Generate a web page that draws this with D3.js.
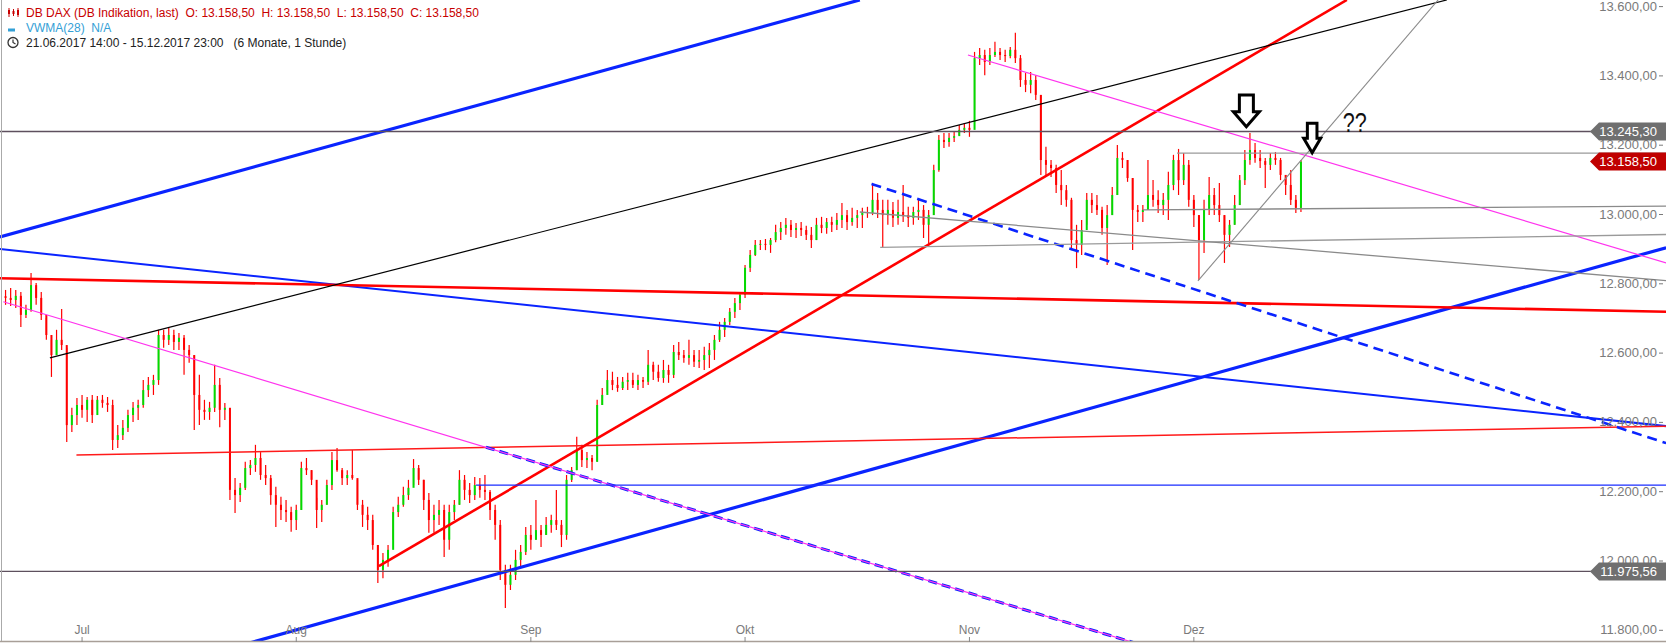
<!DOCTYPE html>
<html><head><meta charset="utf-8">
<script src="https://cdn.jsdelivr.net/npm/d3@7"></script>
<style>
html,body{margin:0;padding:0;background:#fff;overflow:hidden}
svg{display:block;font-family:"Liberation Sans",Arial,sans-serif}
</style></head><body>
<svg id="c" width="1666" height="643"></svg>
<script>
// ---- DATA (half-day candles, 21.06.2017 PM .. 15.12.2017 PM) ----
const firstOpen = 12770;
const highs = [
12788,12794,12788,12782,12745,12837,12808,12782,12707,12644,
12673,12733,12621,12448,12476,12485,12479,12485,12482,12485,
12479,12471,12398,12413,12442,12465,12471,12528,12537,12543,
12673,12673,12678,12673,12664,12658,12629,12600,12543,12471,
12465,12572,12534,12462,12349,12245,12231,12292,12297,12341,
12320,12283,12254,12220,12191,12182,12162,12168,12292,12303,
12268,12188,12182,12240,12320,12332,12274,12268,12326,12240,
12182,12162,12139,12052,12029,12052,12162,12191,12220,12240,
12300,12283,12240,12202,12168,12182,12168,12168,12182,12268,
12254,12231,12248,12245,12254,12211,12168,12124,11995,11995,
12038,12052,12104,12110,12182,12110,12133,12139,12211,12124,
12254,12277,12364,12341,12320,12312,12471,12505,12557,12552,
12537,12537,12549,12549,12543,12537,12615,12581,12572,12586,
12572,12629,12638,12615,12644,12615,12615,12624,12635,12658,
12696,12707,12736,12765,12779,12860,12903,12932,12932,12935,
12938,12976,12984,12996,12990,12981,12984,12973,12970,12996,
12999,12996,12999,13010,13039,13019,13025,13019,13025,13028,
13097,13068,13048,13048,13042,13048,13091,13028,13028,13048,
13033,13019,13149,13235,13241,13241,13244,13264,13270,13276,
13475,13486,13481,13486,13504,13486,13481,13489,13530,13466,
13414,13417,13408,13351,13201,13163,13149,13134,13091,13054,
12976,12990,13068,13068,13062,13028,13033,13085,13206,13186,
13163,13111,13033,13033,13163,13105,13076,13068,13129,13178,
13195,13183,13163,13062,13004,13048,13114,13082,13097,13004,
12990,13062,13120,13192,13241,13212,13192,13169,13183,13186,
13169,13120,13134,13062,13163];
const lows = [
12745,12742,12736,12681,12707,12725,12745,12701,12644,12537,
12600,12615,12349,12378,12398,12419,12407,12404,12442,12448,
12436,12326,12332,12355,12378,12407,12413,12448,12479,12485,
12514,12621,12629,12615,12615,12543,12578,12384,12398,12413,
12413,12436,12392,12413,12182,12144,12176,12211,12254,12263,
12240,12225,12168,12104,12124,12118,12090,12095,12153,12254,
12225,12101,12118,12168,12211,12263,12225,12225,12240,12153,
12104,12095,12038,11942,11956,11989,12067,12133,12162,12182,
12225,12225,12153,12087,12087,12110,12017,12038,12124,12168,
12182,12173,12182,12188,12182,12124,12067,11951,11870,11922,
11951,11989,12023,12038,12067,12046,12081,12087,12095,12046,
12067,12234,12268,12277,12274,12268,12292,12456,12494,12499,
12494,12499,12499,12505,12499,12505,12514,12528,12523,12520,
12520,12534,12586,12578,12572,12566,12563,12557,12563,12586,
12638,12652,12687,12707,12730,12765,12840,12886,12903,12903,
12895,12926,12932,12947,12941,12938,12944,12932,12909,12932,
12952,12950,12955,12961,12967,12961,12973,12967,12967,12996,
13004,12996,12912,12976,12970,12976,12984,12970,12976,12990,
12938,12918,13004,13129,13198,13201,13215,13235,13241,13230,
13307,13437,13408,13437,13460,13452,13446,13457,13443,13374,
13359,13356,13336,13120,13114,13114,13068,13033,13028,12903,
12851,12889,12976,13010,13004,12947,12860,13004,13062,13140,
13100,12903,12984,12984,13019,13028,13010,13004,12990,13076,
13062,13091,13028,12970,12817,12895,13004,13004,12984,12866,
12912,12976,13033,13091,13149,13155,13140,13082,13134,13149,
13105,13062,13033,13010,13013];
const closes = [
12765,12759,12771,12716,12730,12802,12765,12716,12658,12600,
12644,12629,12398,12427,12456,12442,12471,12427,12471,12462,
12456,12355,12369,12390,12427,12448,12456,12499,12514,12528,
12658,12644,12658,12638,12650,12615,12600,12485,12442,12436,
12448,12514,12442,12448,12211,12196,12217,12274,12283,12303,
12254,12245,12196,12168,12153,12147,12124,12153,12274,12268,
12240,12153,12168,12225,12297,12268,12245,12254,12245,12168,
12139,12124,12052,11980,12009,12038,12147,12168,12196,12217,
12274,12240,12182,12124,12139,12153,12067,12147,12168,12240,
12211,12196,12225,12211,12205,12153,12110,11980,11937,11966,
12009,12032,12081,12067,12095,12081,12110,12124,12110,12081,
12240,12268,12326,12297,12303,12292,12456,12485,12528,12514,
12505,12523,12528,12514,12528,12523,12572,12552,12534,12557,
12543,12609,12600,12592,12600,12581,12586,12600,12615,12644,
12673,12696,12725,12750,12774,12852,12889,12918,12921,12918,
12932,12955,12967,12976,12961,12967,12961,12947,12932,12976,
12967,12984,12976,12990,13004,12984,12996,13004,13013,13010,
13048,13019,13004,13019,12996,13013,13004,12996,13013,13019,
12976,13004,13134,13221,13215,13227,13232,13250,13256,13250,
13457,13466,13446,13466,13475,13466,13463,13481,13457,13394,
13380,13394,13351,13163,13149,13140,13091,13076,13048,12932,
12918,12961,13048,13033,13019,12967,13004,13062,13169,13163,
13111,13019,13013,13019,13062,13048,13033,13048,13091,13163,
13105,13149,13048,13004,12932,13019,13062,13033,13004,12947,
12976,13033,13105,13163,13192,13169,13160,13149,13169,13163,
13120,13091,13048,13025,13158.5];

const monthLabels = ["Jul","Aug","Sep","Okt","Nov","Dez"];
const monthStartCandle = [15, 57, 103, 145, 189, 233];
const yTickValues = [13600,13400,13200,13000,12800,12600,12400,12200,12000,11800];
const tagValues = [13245.30, 13158.50, 11975.56];
const tagColors = ["#6f6f6f", "#c00000", "#6f6f6f"];

// trend lines: [u1, price1, u2, price2] in candle-index / price units
const trendLines = [
  {p:[-0.6,12941,168.0,13625], c:"#0a24ff", w:3.2},
  {p:[48.3,11769,326.1,12910], c:"#0a24ff", w:3.2},
  {p:[-0.6,12906,326.1,12395], c:"#0a24ff", w:2},
  {p:[-0.6,12822,326.1,12725], c:"#ff0000", w:2.6},
  {p:[14.4,12312,326.1,12395], c:"#ff1a1a", w:1.5},
  {p:[73.7,11991,263.5,13625], c:"#ff0000", w:2.6},
  {p:[9.2,12592,283.1,13625], c:"#000000", w:1.2},
  {p:[94.7,12334,222.0,11769], c:"#0a24ff", w:3, d:"9,5"},
  {p:[170.3,13094,326.1,12346], c:"#0a24ff", w:2.6, d:"10,6"},
  {p:[0.06,12754,222.0,11769], c:"#ff33ee", w:1.2},
  {p:[189.2,13466,326.1,12866], c:"#ff33ee", w:1.2},
  {p:[230.2,13183,326.1,13183], c:"#9a9a9a", w:1.3},
  {p:[172.0,12911,326.1,12948], c:"#9a9a9a", w:1.3},
  {p:[168.0,13013,326.1,12815], c:"#8a8a8a", w:1.3},
  {p:[223.5,13019,326.1,13030], c:"#8a8a8a", w:1.3},
  {p:[234.3,12814,281.4,13625], c:"#8a8a8a", w:1.1},
  {p:[92.75,12225,326.1,12225], c:"#1a2cff", w:1.2},
  {p:[-0.6,13245.30,326.1,13245.30], c:"#5e505e", w:1.3},
  {p:[-0.6,11975.56,326.1,11975.56], c:"#5e505e", w:1.3}
];
const arrows = [{u:243.8, v:13259, big:true}, {u:256.7, v:13184, big:false}];
const noteText = {u:262.7, v:13244, t:"??"};

// ---- SCALES ----
const W = 1666, H = 643;
const x = d3.scaleLinear().domain([0, 255]).range([3, 1303.5]);
const y = d3.scaleLinear().domain([11800, 13600]).range([632.3, 8.6]);
const svg = d3.select("#c");
svg.append("rect").attr("width",W).attr("height",H).attr("fill","#fff");
svg.append("defs").append("clipPath").attr("id","pc").append("rect")
  .attr("x",0).attr("y",0).attr("width",W).attr("height",641);
const plot = svg.append("g").attr("clip-path","url(#pc)");

// candles
const candles = closes.map((c,i)=>({i, o: i===0?firstOpen:closes[i-1], h:highs[i], l:lows[i], c}));
const cg = plot.append("g");
candles.forEach(d=>{
  const up = d.c >= d.o;
  const col = up ? "#00dc00" : "#ff0000";
  const cx = x(d.i + 0.5);
  cg.append("line").attr("x1",cx).attr("x2",cx).attr("y1",y(d.h)).attr("y2",y(d.l))
    .attr("stroke", "#ff0000").attr("stroke-width",1.2);
  const top = y(Math.max(d.o,d.c)), bot = y(Math.min(d.o,d.c));
  cg.append("rect").attr("x",cx-1).attr("width",2).attr("y",top)
    .attr("height",Math.max(1,bot-top)).attr("fill",col);
});

// trend lines
trendLines.forEach(t=>{
  plot.append("line").attr("x1",x(t.p[0])).attr("y1",y(t.p[1]))
    .attr("x2",x(t.p[2])).attr("y2",y(t.p[3]))
    .attr("stroke",t.c).attr("stroke-width",t.w)
    .attr("stroke-dasharray",t.d||null);
});

// arrows
arrows.forEach(a=>{
  const tx = x(a.u), ty = y(a.v);
  const hw = a.big?13:8.5, hh = a.big?15:14.4, sw = a.big?7:4.8, sh = a.big?16.7:15;
  const pts = [[tx,ty],[tx-hw,ty-hh],[tx-sw,ty-hh],[tx-sw,ty-hh-sh],[tx+sw,ty-hh-sh],[tx+sw,ty-hh],[tx+hw,ty-hh]];
  plot.append("path").attr("d","M"+pts.map(p=>p.join(",")).join("L")+"Z")
    .attr("fill","#fff").attr("stroke","#000").attr("stroke-width",3).attr("stroke-linejoin","miter");
});
svg.append("text").attr("x",x(noteText.u)).attr("y",y(noteText.v)).text(noteText.t)
  .attr("font-size",27).attr("textLength",24).attr("lengthAdjust","spacingAndGlyphs").attr("fill","#111");

// borders
svg.append("line").attr("x1",0).attr("x2",W).attr("y1",641.5).attr("y2",641.5).attr("stroke","#a89f98").attr("stroke-width",1.5);
svg.append("line").attr("x1",1.5).attr("x2",1.5).attr("y1",0).attr("y2",641).attr("stroke","#aaaaaa").attr("stroke-width",1);

// y axis labels
const loc = d3.formatLocale({decimal:",", thousands:".", grouping:[3], currency:["","€"]});
const fmt = loc.format(",.2f");
yTickValues.forEach(v=>{
  const yy = y(v) - 2.5;
  svg.append("text").attr("x",1657).attr("y",yy).attr("text-anchor","end")
    .attr("dominant-baseline","central").attr("font-size",13).attr("fill","#7a7a7a").text(fmt(v));
  svg.append("line").attr("x1",1659).attr("x2",1663).attr("y1",yy+0.5).attr("y2",yy+0.5)
    .attr("stroke","#7a7a7a").attr("stroke-width",1);
});
// price tags
tagValues.forEach((v,k)=>{
  const yc = y(v);
  svg.append("path").attr("d",`M1590,${yc}L1599,${yc-9}L1666,${yc-9}L1666,${yc+9}L1599,${yc+9}Z`).attr("fill",tagColors[k]);
  svg.append("text").attr("x",1657).attr("y",yc).attr("text-anchor","end").attr("dominant-baseline","central")
    .attr("font-size",13).attr("fill","#fff").text(fmt(v));
});
// x axis
monthLabels.forEach((m,k)=>{
  const mx = x(monthStartCandle[k] + 0.5);
  svg.append("text").attr("x",mx).attr("y",634).attr("text-anchor","middle").attr("font-size",12)
    .attr("fill","#7a7a7a").text(m);
  svg.append("line").attr("x1",mx).attr("x2",mx).attr("y1",637).attr("y2",642).attr("stroke","#888");
});

// header
const hd = svg.append("g");
hd.append("text").attr("x",26).attr("y",16.5).attr("font-size",12).attr("fill","#c80000")
  .style("white-space","pre").text("DB DAX (DB Indikation, last)  O: 13.158,50  H: 13.158,50  L: 13.158,50  C: 13.158,50");
[[9,8,17,10,14],[13.5,9,16,11,14],[18,8,17,10,15]].forEach(b=>{
  hd.append("line").attr("x1",b[0]).attr("x2",b[0]).attr("y1",b[1]).attr("y2",b[2]).attr("stroke","#c80000").attr("stroke-width",1);
  hd.append("rect").attr("x",b[0]-1).attr("y",b[3]).attr("width",2).attr("height",b[4]-b[3]).attr("fill","#c80000");
});
hd.append("rect").attr("x",8).attr("y",28.5).attr("width",7).attr("height",3).attr("fill","#33a0d6");
hd.append("text").attr("x",26).attr("y",31.5).attr("font-size",12).attr("fill","#33a0d6")
  .style("white-space","pre").text("VWMA(28)  N/A");
hd.append("circle").attr("cx",13).attr("cy",42.5).attr("r",5).attr("fill","none").attr("stroke","#333").attr("stroke-width",1.3);
hd.append("path").attr("d","M13,39.5L13,42.5L15.5,44").attr("fill","none").attr("stroke","#333").attr("stroke-width",1.2);
hd.append("text").attr("x",26).attr("y",46.5).attr("font-size",12).attr("fill","#222")
  .style("white-space","pre").text("21.06.2017 14:00 - 15.12.2017 23:00   (6 Monate, 1 Stunde)");
</script></body></html>
